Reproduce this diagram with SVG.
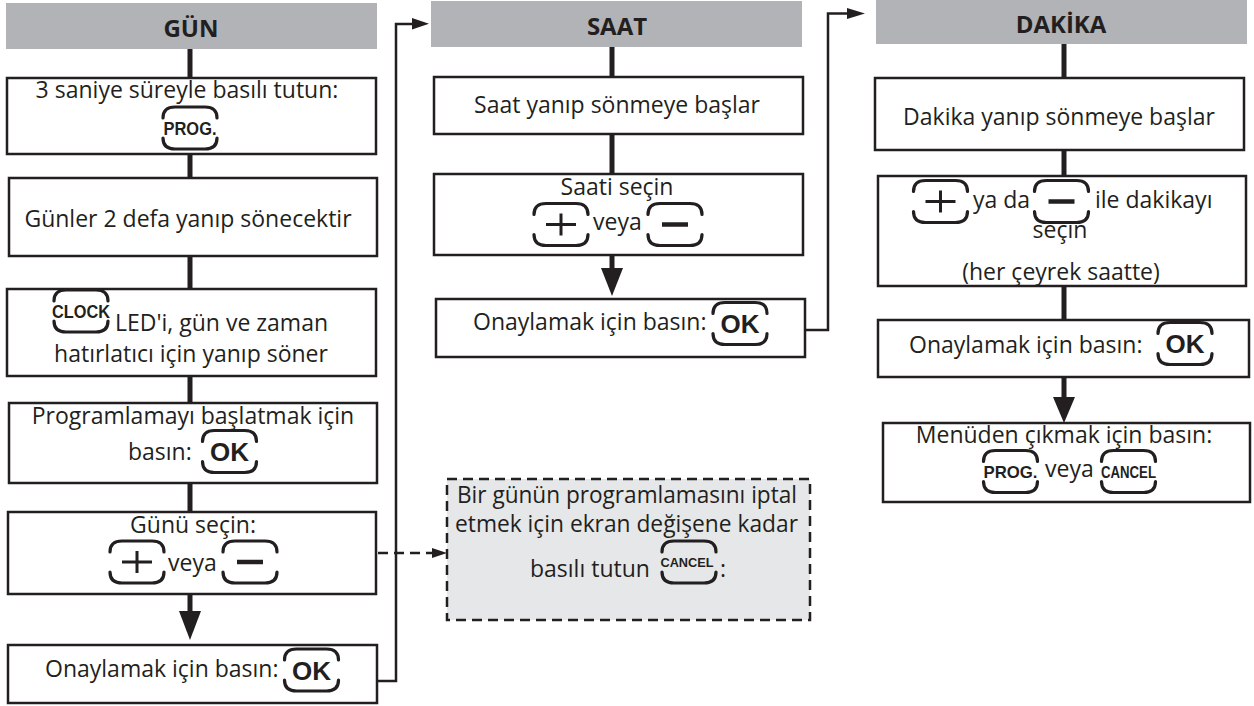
<svg xmlns="http://www.w3.org/2000/svg" xmlns:xlink="http://www.w3.org/1999/xlink" width="1254" height="706" viewBox="0 0 1254 706">
<style>
.box{fill:#fff;stroke:#231f20;stroke-width:2.5}
.hdr{fill:#b1b3b6}
.dbox{fill:#e6e7e8;stroke:#231f20;stroke-width:2.5;stroke-dasharray:10 6}
.t{font-family:"Open Sans","DejaVu Sans",sans-serif;font-size:23px;fill:#231f20}
.h{font-family:"Open Sans","DejaVu Sans",sans-serif;font-size:24px;font-weight:bold;fill:#231f20;text-anchor:middle}
.c{text-anchor:middle}
.bt{font-family:"Liberation Sans",Arial,sans-serif;font-weight:bold;fill:#231f20;text-anchor:middle}
.br{fill:none;stroke:#231f20;stroke-width:3.2;stroke-linecap:round}
.sg{fill:none;stroke:#231f20;stroke-width:3}
.thick{stroke:#231f20;stroke-width:5;fill:none}
.thin{stroke:#231f20;stroke-width:2.5;fill:none}
.dash{stroke:#231f20;stroke-width:2.5;fill:none;stroke-dasharray:10 6}
.ah{fill:#231f20}
</style>
<defs>
<g id="br">
<path class="br" d="M-27,-10 Q-27,-21 -15,-21 H15 Q27,-21 27,-10"/>
<path class="br" d="M-27,10 Q-27,21 -15,21 H15 Q27,21 27,10"/>
</g>
<g id="plus"><use xlink:href="#br"/><path class="sg" d="M-15,0H15M0,-11V11"/></g>
<g id="minus"><use xlink:href="#br"/><path class="sg" style="stroke-width:4.5" d="M-13,0H13"/></g>
</defs>

<g id="connectors">
<line class="thick" x1="190" y1="49" x2="190" y2="78"/>
<line class="thick" x1="190" y1="154" x2="190" y2="178"/>
<line class="thick" x1="190" y1="256" x2="190" y2="289"/>
<line class="thick" x1="190" y1="376" x2="190" y2="403"/>
<line class="thick" x1="190" y1="483" x2="190" y2="512"/>
<line class="thick" x1="190" y1="594" x2="190" y2="613"/>
<polygon class="ah" points="179,611 201,611 190,640"/>
<polyline class="thin" points="377,681 396,681 396,24 414,24"/>
<polygon class="ah" points="412,18 412,29.5 429,23.8"/>
<line class="dash" x1="378" y1="553" x2="434" y2="553"/>
<polygon class="ah" points="432,548 432,558 447,553"/>

<line class="thick" x1="612" y1="47" x2="612" y2="77"/>
<line class="thick" x1="612" y1="134" x2="612" y2="174"/>
<line class="thick" x1="612" y1="255" x2="612" y2="270"/>
<polygon class="ah" points="601,268 623,268 612,296"/>
<polyline class="thin" points="805,330 828,330 828,13.5 849,13.5"/>
<polygon class="ah" points="847,8 847,19 865,13.5"/>

<line class="thick" x1="1064" y1="44" x2="1064" y2="78"/>
<line class="thick" x1="1064" y1="150" x2="1064" y2="176"/>
<line class="thick" x1="1064" y1="286" x2="1064" y2="320"/>
<line class="thick" x1="1064" y1="377" x2="1064" y2="399"/>
<polygon class="ah" points="1053,397 1075,397 1064,423"/>
</g>

<g id="hdr-gun"><rect class="hdr" x="6" y="3" width="371" height="46"/><text class="h" x="191" y="37">GÜN</text></g>
<g id="gun-1"><rect class="box" x="7" y="78" width="369" height="76"/>
<text class="t c" x="187" y="98">3 saniye süreyle basılı tutun:</text>
<use xlink:href="#br" x="190" y="128"/>
<text class="bt" x="190" y="134.5" font-size="18" textLength="53" lengthAdjust="spacingAndGlyphs">PROG.</text></g>
<g id="gun-2"><rect class="box" x="9" y="178" width="368" height="78"/>
<text class="t c" x="188" y="227">Günler 2 defa yanıp sönecektir</text></g>
<g id="gun-3"><rect class="box" x="7" y="289" width="369" height="87"/>
<use xlink:href="#br" x="81" y="311"/>
<text class="bt" x="81" y="317.5" font-size="18" textLength="58" lengthAdjust="spacingAndGlyphs">CLOCK</text>
<text class="t" x="115" y="331">LED'i, gün ve zaman</text>
<text class="t c" x="191" y="362">hatırlatıcı için yanıp söner</text></g>
<g id="gun-4"><rect class="box" x="9" y="403" width="368" height="80"/>
<text class="t c" x="193" y="424">Programlamayı başlatmak için</text>
<text class="t" x="128" y="460">basın:</text>
<use xlink:href="#br" x="229.5" y="451.5"/>
<text class="bt" x="229.5" y="461" font-size="26">OK</text></g>
<g id="gun-5"><rect class="box" x="8" y="512" width="368" height="82"/>
<text class="t c" x="193" y="533">Günü seçin:</text>
<use xlink:href="#plus" x="137" y="562"/>
<text class="t" x="168" y="571">veya</text>
<use xlink:href="#minus" x="250" y="562"/></g>
<g id="gun-6"><rect class="box" x="8" y="645" width="369" height="58"/>
<text class="t" x="45" y="677">Onaylamak için basın:</text>
<use xlink:href="#br" x="311.5" y="670"/>
<text class="bt" x="311.5" y="679.5" font-size="26">OK</text></g>

<g id="cancel-note"><rect class="dbox" x="447" y="479" width="363" height="141"/>
<text class="t c" x="627" y="503" textLength="340" lengthAdjust="spacingAndGlyphs">Bir günün programlamasını iptal</text>
<text class="t c" x="626.5" y="532" textLength="343" lengthAdjust="spacingAndGlyphs">etmek için ekran değişene kadar</text>
<text class="t" x="530" y="577">basılı tutun</text>
<use xlink:href="#br" x="689" y="562"/>
<text class="bt" x="687" y="567" font-size="13" textLength="53" lengthAdjust="spacingAndGlyphs">CANCEL</text>
<text class="t" x="720" y="577">:</text></g>

<g id="hdr-saat"><rect class="hdr" x="431" y="1" width="371" height="46"/><text class="h" x="617" y="35">SAAT</text></g>
<g id="saat-1"><rect class="box" x="434" y="77" width="369" height="57"/>
<text class="t c" x="617" y="113">Saat yanıp sönmeye başlar</text></g>
<g id="saat-2"><rect class="box" x="434" y="174" width="369" height="81"/>
<text class="t c" x="617" y="195">Saati seçin</text>
<use xlink:href="#plus" x="561" y="224.5"/>
<text class="t" x="593" y="230">veya</text>
<use xlink:href="#minus" x="675" y="224.5"/></g>
<g id="saat-3"><rect class="box" x="436" y="299" width="369" height="58"/>
<text class="t" x="473" y="330">Onaylamak için basın:</text>
<use xlink:href="#br" x="740" y="323.5"/>
<text class="bt" x="740" y="333" font-size="26">OK</text></g>

<g id="hdr-dakika"><rect class="hdr" x="876" y="0" width="371" height="44"/><text class="h" x="1061" y="33">DAKİKA</text></g>
<g id="dakika-1"><rect class="box" x="875" y="78" width="369" height="72"/>
<text class="t c" x="1059" y="125">Dakika yanıp sönmeye başlar</text></g>
<g id="dakika-2"><rect class="box" x="878" y="176" width="368" height="110"/>
<use xlink:href="#plus" x="940.5" y="201.5"/>
<text class="t" x="973" y="208">ya da</text>
<use xlink:href="#minus" x="1061.5" y="201.5"/>
<text class="t" x="1095" y="208">ile dakikayı</text>
<text class="t c" x="1060" y="238">seçin</text>
<text class="t c" x="1061" y="280">(her çeyrek saatte)</text></g>
<g id="dakika-3"><rect class="box" x="878" y="320" width="371" height="57"/>
<text class="t" x="909" y="353">Onaylamak için basın:</text>
<use xlink:href="#br" x="1185" y="343.5"/>
<text class="bt" x="1185" y="353" font-size="26">OK</text></g>
<g id="dakika-4"><rect class="box" x="883" y="423" width="367" height="79"/>
<text class="t c" x="1064" y="443">Menüden çıkmak için basın:</text>
<use xlink:href="#br" x="1010.5" y="471.5"/>
<text class="bt" x="1010.5" y="478" font-size="17" textLength="54" lengthAdjust="spacingAndGlyphs">PROG.</text>
<text class="t" x="1045" y="477">veya</text>
<use xlink:href="#br" x="1128.5" y="471.5"/>
<text class="bt" x="1128.5" y="478" font-size="17" textLength="55" lengthAdjust="spacingAndGlyphs">CANCEL</text></g>
</svg>
